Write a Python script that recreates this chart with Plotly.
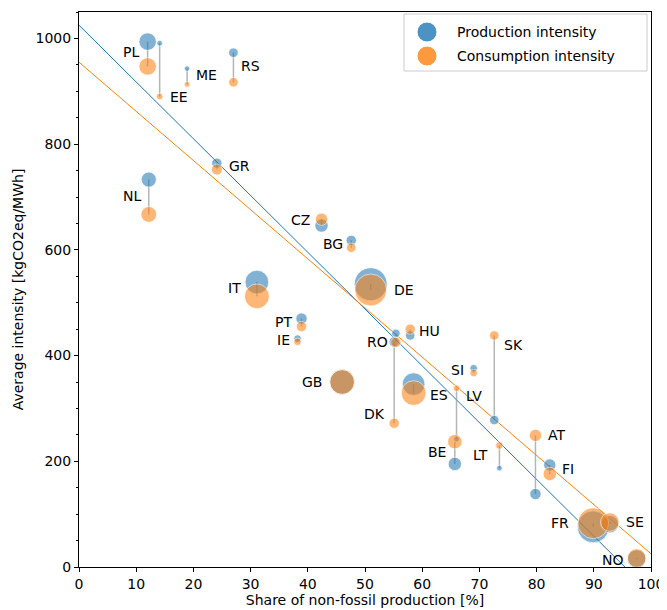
import plotly.graph_objects as go

countries = ["PL", "EE", "ME", "RS", "GR", "NL", "CZ", "BG", "IT", "DE", "PT", "IE", "RO", "HU",
             "GB", "DK", "ES", "SK", "SI", "LV", "BE", "LT", "AT", "FI", "FR", "SE", "NO"]
non_fossil_share = [12.0, 14.1, 18.9, 27.0, 24.1, 12.2, 42.4, 47.6, 31.1, 51.0, 38.9, 38.2, 55.4, 57.9,
                    46.0, 55.1, 58.5, 72.6, 69.0, 66.0, 65.7, 73.5, 79.8, 82.3, 89.9, 92.8, 97.5]
production_intensity = [994, 991, 943, 973, 764, 733, 646, 618, 539, 535, 470, 432, 442, 438,
                        350, 426, 346, 278, 376, 242, 195, 187, 138, 193, 76, 81, 15]
consumption_intensity = [947, 890, 913, 917, 752, 667, 658, 604, 512, 524, 455, 426, 425, 450,
                         350, 272, 329, 438, 367, 338, 237, 230, 249, 176, 83, 85, 17]
production_twh = [169, 18, 16, 51, 59, 127, 99, 59, 310, 600, 71, 32, 40, 50,
                  338, 59, 284, 50, 32, 18, 99, 18, 71, 84, 563, 169, 190]
consumption_twh = [169, 24, 18, 51, 67, 137, 84, 50, 338, 563, 59, 32, 59, 59,
                   338, 59, 338, 50, 32, 24, 115, 32, 84, 99, 527, 190, 190]
# linear fits (intercept, slope)
production_fit = (1025, -10.74)
consumption_fit = (955, -9.30)
x_ticks = [0, 10, 20, 30, 40, 50, 60, 70, 80, 90, 100]
y_ticks = [0, 200, 400, 600, 800, 1000]

# label placement: (side, label y in data units, pixel gap)
label_pos = {
    "PL": ("l", 974, 7), "EE": ("r", 890, 8), "ME": ("r", 930, 7), "RS": ("r", 947, 6),
    "GR": ("r", 758, 10), "NL": ("l", 701, 6), "CZ": ("l", 656, 10), "BG": ("l", 612, 6),
    "IT": ("l", 527, 14), "DE": ("r", 524, 21), "PT": ("l", 463, 8), "IE": ("l", 429, 6),
    "RO": ("l", 425, 6), "HU": ("r", 446, 7), "GB": ("l", 350, 18), "DK": ("l", 289, 7),
    "ES": ("r", 325, 14), "SK": ("r", 420, 8), "SI": ("l", 372, 8), "LV": ("r", 323, 7),
    "BE": ("l", 217, 7), "LT": ("l", 212, 9), "AT": ("r", 250, 11), "FI": ("r", 185, 10),
    "FR": ("l", 83, 22), "SE": ("r", 85, 14), "NO": ("l", 13, 11),
}

BLUE = "rgba(31,119,180,0.8)"
ORANGE = "rgba(255,127,14,0.8)"
FONT = "DejaVu Sans"
max_twh = max(production_twh + consumption_twh)
sizeref = 2 * max_twh / (33 ** 2)

# page body has an 8px margin; size the figure so the plot area lands at
# screen x 79..651, y 12..567
OFF = 8
W, H = 659, 602
L, R, T, B = 71, 16, 4, 43
PW, PH = W - L - R, H - T - B

fig = go.Figure()

# regression lines
for (b0, b1), col in [(production_fit, "#1f77b4"), (consumption_fit, "#ff7f0e")]:
    xs = [0, 100]
    fig.add_trace(go.Scatter(x=xs, y=[b0 + b1 * v for v in xs], mode="lines",
                             line=dict(color=col, width=1), showlegend=False, hoverinfo="skip"))

# connecting gray lines
lx, ly = [], []
for x, p, c in zip(non_fossil_share, production_intensity, consumption_intensity):
    lx += [x, x, None]
    ly += [p, c, None]
fig.add_trace(go.Scatter(x=lx, y=ly, mode="lines", line=dict(color="rgba(150,150,150,0.7)", width=1.5),
                         showlegend=False, hoverinfo="skip"))

fig.add_trace(go.Scatter(x=non_fossil_share, y=production_intensity, mode="markers",
                         name="Production intensity",
                         marker=dict(size=production_twh, sizemode="area", sizeref=sizeref,
                                     color=BLUE, line=dict(color="white", width=0.8)),
                         showlegend=False))
fig.add_trace(go.Scatter(x=non_fossil_share, y=consumption_intensity, mode="markers",
                         name="Consumption intensity",
                         marker=dict(size=consumption_twh, sizemode="area", sizeref=sizeref,
                                     color=ORANGE, line=dict(color="white", width=0.8)),
                         showlegend=False))

annotations = []
for c, x in zip(countries, non_fossil_share):
    side, ly_, gap = label_pos[c]
    annotations.append(dict(x=x, y=ly_, xref="x", yref="y", text=c, showarrow=False,
                            xanchor="right" if side == "l" else "left", yanchor="middle",
                            xshift=-gap if side == "l" else gap,
                            font=dict(family=FONT, size=14, color="black")))


# manual legend (positions given in screen pixels)
def px_x(p):
    return (p - OFF - L) / PW


def px_y(p):
    return (H - B - (p - OFF)) / PH


shapes = [dict(type="rect", xref="paper", yref="paper", x0=px_x(404), x1=px_x(647), y0=px_y(71), y1=px_y(14),
               line=dict(color="#cccccc", width=1), fillcolor="rgba(255,255,255,0.8)", layer="above")]
for i, (col, txt) in enumerate([(BLUE, "Production intensity"), (ORANGE, "Consumption intensity")]):
    py = 32 + 24 * i
    shapes.append(dict(type="circle", xref="paper", yref="paper", xsizemode="pixel", ysizemode="pixel",
                       xanchor=px_x(427), yanchor=px_y(py), x0=-10, x1=10, y0=-10, y1=10,
                       fillcolor=col, line=dict(color="white", width=1), layer="above"))
    annotations.append(dict(x=px_x(455), y=px_y(py), xref="paper", yref="paper", text=txt,
                            showarrow=False, xanchor="left", yanchor="middle",
                            font=dict(family=FONT, size=14, color="black")))

fig.update_layout(
    width=W, height=H,
    margin=dict(l=L, r=R, t=T, b=B),
    plot_bgcolor="white", paper_bgcolor="white",
    font=dict(family=FONT, size=14, color="black"),
    annotations=annotations, shapes=shapes,
    showlegend=False,
)
fig.update_xaxes(range=[0, 100], tickvals=x_ticks, ticks="outside", ticklen=4, tickcolor="black",
                 showline=True, linecolor="black", linewidth=1, mirror=True, showgrid=False, zeroline=False,
                 automargin=False, ticklabeloverflow="allow",
                 title=dict(text="Share of non-fossil production [%]", standoff=4,
                            font=dict(family=FONT, size=14)),
                 tickfont=dict(family=FONT, size=14))
fig.update_yaxes(range=[0, 1050], tickvals=y_ticks, ticks="outside", ticklen=4, tickcolor="black",
                 showline=True, linecolor="black", linewidth=1, mirror=True, showgrid=False, zeroline=False,
                 automargin=False, ticklabeloverflow="allow",
                 minor=dict(dtick=50, ticks="outside", ticklen=2, tickcolor="black"),
                 title=dict(text="Average intensity [kgCO2eq/MWh]", standoff=8,
                            font=dict(family=FONT, size=14)),
                 tickfont=dict(family=FONT, size=14))

fig.write_html("out.html")
